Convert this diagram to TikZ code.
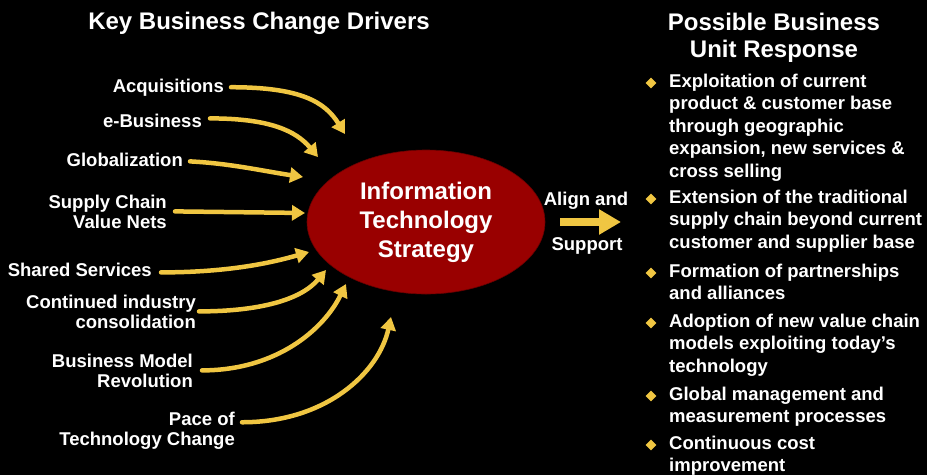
\documentclass[tikz,border=0pt]{standalone}
\usepackage{fontspec}
\setmainfont{Liberation Sans}
\usepackage{xcolor}
\usepackage{tikz}
\usetikzlibrary{shapes,arrows.meta}
\definecolor{tcRed}{RGB}{153,0,0}
\definecolor{tcRedLine}{RGB}{105,0,0}
\definecolor{tcGold}{RGB}{240,198,66}
\tikzstyle{tsBold} = [ 
    text=white, 
    font=\bfseries\fontsize{18.5}{20}\selectfont,
    inner sep=0pt
]
\tikzstyle{tsDriver} = [ 
    tsBold, 
    align=right,
    anchor=base east
]
\tikzstyle{tsItem} = [ 
    tsBold, 
    font=\bfseries\fontsize{18.5}{22.5}\selectfont,
    align=left,
    anchor=base west
]
\tikzstyle{tsTitle} = [ 
    text=white, 
    font=\bfseries\fontsize{24}{27}\selectfont,
    align=center,
    inner sep=0pt,
    anchor=base
]
\tikzstyle{tsBullet} = [ 
    diamond,
    fill=tcGold,
    minimum size=11pt,
    inner sep=0pt]
\tikzstyle{tsFlow} = [ 
    draw=tcGold,
    line width=4.5pt,
    line cap=round,
    -{Triangle[length=13pt,width=15pt]}]

\begin{document}
\begin{tikzpicture}[x=1pt, y=-1pt]

     	\useasboundingbox (0,0) rectangle (927,475);
     	\fill[black] (0,0) rectangle (927,475);

		\node[tsTitle] (keyTitle) at (259,29) {Key Business Change Drivers};
		\node[tsTitle] (respTitle) at (774,57) {Possible Business\\Unit Response};

       	\node[	ellipse,
                fill=tcRed,
                draw=tcRedLine,
                line width=0.6pt,
     	 		minimum width=238pt,
                minimum height=144pt,
                inner sep=0pt,
                text=white,
                align=center,
                font=\bfseries\fontsize{24}{29}\selectfont] (its) at (426,222) {Information\\Technology\\Strategy};

		\node[tsDriver] (acq) at (224,92) {Acquisitions};
		\node[tsDriver] (ebus) at (202,127) {e-Business};
		\node[tsDriver] (glob) at (183,166) {Globalization};
		\node[tsDriver] (supply) at (167,228) {Supply Chain\\Value Nets};
		\node[tsDriver] (shared) at (152,276) {Shared Services};
		\node[tsDriver] (cont) at (196,328) {Continued industry\\consolidation};
		\node[tsDriver] (model) at (193,387) {Business Model\\Revolution};
		\node[tsDriver] (pace) at (235,445) {Pace of\\Technology Change};

		\coordinate (tAcq) at (345,134);
		\coordinate (tEbus) at (318,157);
		\coordinate (tGlob) at (303,177);
		\coordinate (tSupply) at (305,213);
		\coordinate (tShared) at (309,252);
		\coordinate (tCont) at (326,270);
		\coordinate (tModel) at (346,284);
		\coordinate (tPace) at (391,317);

		\draw[tsFlow] ([xshift=7pt]acq.east) .. controls +(70,0) and +(-20,-32) .. (tAcq);
		\draw[tsFlow] ([xshift=8pt,yshift=2pt]ebus.east) .. controls +(60,0) and +(-22,-26) .. (tEbus);
		\draw[tsFlow] ([xshift=7pt,yshift=-2pt]glob.east) .. controls +(40,2) and +(-40,-6) .. (tGlob);
		\draw[tsFlow] ([xshift=8pt]supply.east) -- (tSupply);
		\draw[tsFlow] ([xshift=9pt,yshift=-3pt]shared.east) .. controls +(70,0) and +(-35,10) .. (tShared);
		\draw[tsFlow] ([xshift=3pt]cont.east) .. controls +(60,0) and +(-25,30) .. (tCont);
		\draw[tsFlow] ([xshift=9pt]model.east) .. controls +(75,0) and +(-22,45) .. (tModel);
		\draw[tsFlow] ([xshift=7pt,yshift=8pt]pace.east) .. controls +(85,0) and +(-12,55) .. (tPace);

		\node[tsBold, anchor=base] (align) at (586,205) {Align and};
		\node[tsBold, anchor=base] (support) at (587,250) {Support};
		\coordinate (tAlign) at (621,222);
		\draw[draw=tcGold, line width=8pt, -{Triangle[length=22pt,width=24pt]}] ([xshift=15pt]its.east) -- (tAlign);

		\node[tsBullet] (b1) at (651,83) {};
		\node[tsBullet] (b2) at (651,199) {};
		\node[tsBullet] (b3) at (651,273) {};
		\node[tsBullet] (b4) at (651,323) {};
		\node[tsBullet] (b5) at (651,396) {};
		\node[tsBullet] (b6) at (651,445) {};

		\node[tsItem] (r1) at (669,177) {Exploitation of current\\product \& customer base\\through geographic\\expansion, new services \&\\cross selling};
		\node[tsItem] (r2) at (669,248) {Extension of the traditional\\supply chain beyond current\\customer and supplier base};
		\node[tsItem] (r3) at (669,299.5) {Formation of partnerships\\and alliances};
		\node[tsItem] (r4) at (669,372) {Adoption of new value chain\\models exploiting today’s\\technology};
		\node[tsItem] (r5) at (669,422.5) {Global management and\\measurement processes};
		\node[tsItem] (r6) at (669,471.5) {Continuous cost\\improvement};

    \end{tikzpicture}
\end{document}
